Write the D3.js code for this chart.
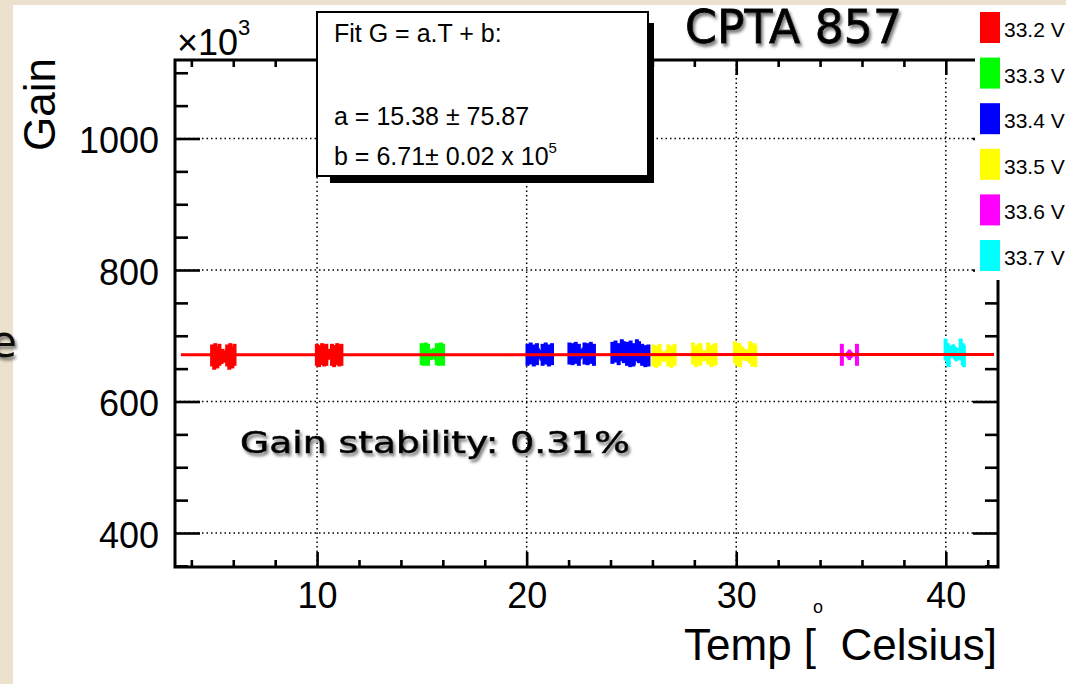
<!DOCTYPE html>
<html lang="en">
<head>
<meta charset="UTF-8">
<title>CPTA 857 gain vs temperature</title>
<style>
  body { margin: 0; background: #ece1cc; }
  svg { display: block; }
  .root { font-family: "Liberation Sans", Arial, Helvetica, sans-serif; }
</style>
</head>
<body>
<svg id="chart" width="1066" height="684"></svg>
<script src="https://d3js.org/d3.v7.min.js"></script>
<script>
// ---- data (gain in units of 10^3) ----
const voltages = ["33.2 V", "33.3 V", "33.4 V", "33.5 V", "33.6 V", "33.7 V"];
const colours  = ["#ff0000", "#00ff00", "#0000ff", "#ffff00", "#ff00ff", "#00ffff"];

const temp332 = [5.35, 5.45, 5.5, 5.6, 5.7, 10.35, 10.45, 10.6, 10.7, 10.8];
const gain332 = [670, 665, 672, 667, 671, 671, 669, 672, 670, 671];
const temp333 = [15.35, 15.45, 15.55, 15.65];
const gain333 = [672, 671, 673, 671];
const temp334 = [20.4, 20.55, 20.7, 20.85, 22.4, 22.55, 22.7, 22.85,
                 24.45, 24.6, 24.75, 24.9, 25.0, 25.15, 25.3, 25.45];
const gain334 = [671, 673, 670, 672, 673, 672, 674, 671,
                 674, 676, 672, 678, 675, 671, 669, 670];
const temp335 = [26.4, 26.55, 26.7, 28.3, 28.45, 28.6, 28.65, 30.3, 30.4, 30.5, 30.55];
const gain335 = [670, 668, 671, 673, 669, 671, 672, 675, 670, 672, 669];
const temp336 = [35.4];
const gain336 = [671];
const temp337 = [40.35, 40.45, 40.5];
const gain337 = [679, 672, 669];

const tempErr = 0.36;   // degrees
const gainErr = 8;      // x10^3

const fitA = 15.38, fitAErr = 75.87;   // G = a.T + b
const fitB = 6.71, fitBErr = 0.02;     // x10^5
const fitRange = [3.5, 42.3];

const xTicks = [10, 20, 30, 40];
const yTicks = [400, 600, 800, 1000];

const series = [
  [temp332, gain332], [temp333, gain333], [temp334, gain334],
  [temp335, gain335], [temp336, gain336], [temp337, gain337]
].map(function (p, i) {
  return { name: voltages[i], colour: colours[i],
           points: p[0].map(function (t, j) { return { t: t, g: p[1][j] }; }) };
});

// ---- layout ----
const frame = { left: 175, right: 998, top: 60, bottom: 567 };
const x = d3.scaleLinear().domain([3.22, 42.49]).range([frame.left, frame.right]);
const y = d3.scaleLinear().domain([348.3, 1119.4]).range([frame.bottom, frame.top]);

const svg = d3.select("#chart");
const defs = svg.append("defs");
defs.append("filter").attr("id", "shadow").attr("x", "-10%").attr("y", "-20%")
    .attr("width", "130%").attr("height", "160%")
  .append("feDropShadow").attr("dx", 2).attr("dy", 3).attr("stdDeviation", 1.6)
    .attr("flood-color", "#666").attr("flood-opacity", 0.85);

// slide background + white picture
svg.append("rect").attr("width", 1066).attr("height", 684).attr("fill", "#ece1cc");
svg.append("rect").attr("x", 13).attr("y", 5).attr("width", 1053).attr("height", 679).attr("fill", "#fff");
svg.append("text").attr("x", -10).attr("y", 357).attr("font-family", "DejaVu Sans")
    .attr("font-size", 44).attr("fill", "#111").attr("filter", "url(#shadow)").text("e");

// grid
const grid = svg.append("g").attr("stroke", "#000").attr("stroke-width", 1.5)
    .attr("stroke-dasharray", "1.5,3");
grid.selectAll(".gx").data(xTicks).join("line").attr("class", "gx")
    .attr("x1", d => x(d)).attr("x2", d => x(d))
    .attr("y1", frame.top).attr("y2", frame.bottom);
grid.selectAll(".gy").data(yTicks).join("line").attr("class", "gy")
    .attr("x1", frame.left).attr("x2", frame.right)
    .attr("y1", d => y(d)).attr("y2", d => y(d));

// axes (ticks pointing inwards, ROOT style)
const minorX = d3.range(4, 43, 2).filter(d => xTicks.indexOf(d) < 0);
const minorY = d3.range(350, 1101, 50).filter(d => yTicks.indexOf(d) < 0);

function styleAxis(g) {
  g.select(".domain").remove();
  g.selectAll(".tick line").attr("stroke", "#000").attr("stroke-width", 2.6);
  g.selectAll(".tick text").attr("class", "root").attr("fill", "#000");
}

svg.append("g").attr("transform", `translate(0,${frame.bottom})`)
  .call(d3.axisBottom(x).tickValues(minorX).tickSize(-7).tickFormat("")).call(styleAxis);
svg.append("g").attr("transform", `translate(0,${frame.bottom})`)
  .call(d3.axisBottom(x).tickValues(xTicks).tickSize(-15).tickPadding(16).tickFormat(d3.format("d")))
  .call(styleAxis)
  .call(g => g.selectAll(".tick text").attr("font-size", 36).attr("dy", "0.7em")
    .attr("font-family", "Liberation Sans, Arial, sans-serif"));
svg.append("g").attr("transform", `translate(0,${frame.top})`)
  .call(d3.axisTop(x).tickValues(minorX).tickSize(-7).tickFormat("")).call(styleAxis);
svg.append("g").attr("transform", `translate(0,${frame.top})`)
  .call(d3.axisTop(x).tickValues(xTicks).tickSize(-15).tickFormat("")).call(styleAxis);

svg.append("g").attr("transform", `translate(${frame.left},0)`)
  .call(d3.axisLeft(y).tickValues(minorY).tickSize(-13).tickFormat("")).call(styleAxis);
svg.append("g").attr("transform", `translate(${frame.left},0)`)
  .call(d3.axisLeft(y).tickValues(yTicks).tickSize(-25).tickPadding(16).tickFormat(d3.format("d")))
  .call(styleAxis)
  .call(g => g.selectAll(".tick text").attr("font-size", 36).attr("dy", "0.4em")
    .attr("font-family", "Liberation Sans, Arial, sans-serif"));
svg.append("g").attr("transform", `translate(${frame.right},0)`)
  .call(d3.axisRight(y).tickValues(minorY).tickSize(-13).tickFormat("")).call(styleAxis);
svg.append("g").attr("transform", `translate(${frame.right},0)`)
  .call(d3.axisRight(y).tickValues(yTicks).tickSize(-25).tickFormat("")).call(styleAxis);

// frame
svg.append("rect").attr("x", frame.left).attr("y", frame.top)
  .attr("width", frame.right - frame.left).attr("height", frame.bottom - frame.top)
  .attr("fill", "none").attr("stroke", "#000").attr("stroke-width", 3);

// data points with error bars
const capHalf = 11;
const pts = svg.append("g");
series.forEach(function (s) {
  const g = pts.append("g").attr("stroke", s.colour).attr("fill", s.colour);
  const p = g.selectAll("g").data(s.points).join("g");
  p.append("line").attr("stroke-width", 3.5)
    .attr("x1", d => x(d.t - tempErr)).attr("x2", d => x(d.t + tempErr))
    .attr("y1", d => y(d.g)).attr("y2", d => y(d.g));
  p.append("line").attr("stroke-width", 3.5)
    .attr("x1", d => x(d.t)).attr("x2", d => x(d.t))
    .attr("y1", d => y(d.g - gainErr)).attr("y2", d => y(d.g + gainErr));
  [-1, 1].forEach(function (side) {
    p.append("line").attr("stroke-width", 4)
      .attr("x1", d => x(d.t + side * tempErr)).attr("x2", d => x(d.t + side * tempErr))
      .attr("y1", d => y(d.g) - capHalf).attr("y2", d => y(d.g) + capHalf);
  });
  p.append("circle").attr("stroke", "none").attr("r", 4)
    .attr("cx", d => x(d.t)).attr("cy", d => y(d.g));
});

// linear fit (a in gain/degree, b in 10^5) -> plotted in 10^3
const fitLine = d3.line().x(d => x(d)).y(d => y((fitA * d + fitB * 1e5) / 1e3));
svg.append("path").attr("d", fitLine(fitRange)).attr("fill", "none")
  .attr("stroke", "#ff0000").attr("stroke-width", 3);

// axis titles
svg.append("text").attr("class", "root").attr("transform", "translate(55,58) rotate(-90)")
  .attr("text-anchor", "end").attr("font-size", 44).text("Gain");
svg.append("text").attr("class", "root").attr("x", 997).attr("y", 660)
  .attr("text-anchor", "end").attr("font-size", 44).text("Temp [\u00a0\u00a0Celsius]");
svg.append("text").attr("class", "root").attr("x", 818).attr("y", 613)
  .attr("text-anchor", "middle").attr("font-size", 18).text("o");
const mult = svg.append("text").attr("class", "root").attr("x", 177).attr("y", 55).attr("font-size", 36);
mult.append("tspan").text("\u00d710");
mult.append("tspan").attr("font-size", 22).attr("dy", -20).text("3");

// fit box
svg.append("rect").attr("x", 330).attr("y", 23).attr("width", 324).attr("height", 160).attr("fill", "#000");
svg.append("rect").attr("x", 317).attr("y", 12).attr("width", 331).attr("height", 164)
  .attr("fill", "#fff").attr("stroke", "#000").attr("stroke-width", 2);
const box = svg.append("g").attr("class", "root").attr("font-size", 25);
box.append("text").attr("x", 334).attr("y", 42).text("Fit G = a.T + b:");
box.append("text").attr("x", 334).attr("y", 125).text("a = " + fitA.toFixed(2) + " \u00b1 " + fitAErr.toFixed(2));
const bt = box.append("text").attr("x", 334).attr("y", 165);
bt.append("tspan").text("b = " + fitB.toFixed(2) + "\u00b1 " + fitBErr.toFixed(2) + " x 10");
bt.append("tspan").attr("font-size", 15).attr("dy", -12).text("5");

// legend
svg.append("rect").attr("x", 975).attr("y", 5).attr("width", 91).attr("height", 275).attr("fill", "#fff");
const leg = svg.append("g").attr("class", "root");
leg.selectAll("rect").data(series).join("rect")
  .attr("x", 980).attr("y", (d, i) => 12 + i * 45.6).attr("width", 20).attr("height", 31)
  .attr("fill", d => d.colour);
leg.selectAll("text").data(series).join("text")
  .attr("x", 1004).attr("y", (d, i) => 37 + i * 45.6).attr("font-size", 21).text(d => d.name);

// slide annotations
svg.append("text").attr("x", 685).attr("y", 43).attr("font-family", "Comic Sans MS, DejaVu Sans, sans-serif")
  .attr("font-size", 46).attr("textLength", 217).attr("lengthAdjust", "spacingAndGlyphs")
  .attr("fill", "#000").attr("stroke", "#000").attr("stroke-width", 0.8)
  .attr("filter", "url(#shadow)").text("CPTA 857");
svg.append("text").attr("x", 240).attr("y", 453).attr("font-family", "Comic Sans MS, DejaVu Sans, sans-serif")
  .attr("font-size", 30).attr("textLength", 390).attr("lengthAdjust", "spacingAndGlyphs")
  .attr("fill", "#000").attr("stroke", "#000").attr("stroke-width", 0.6)
  .attr("filter", "url(#shadow)").text("Gain stability: 0.31%");
</script>
</body>
</html>
